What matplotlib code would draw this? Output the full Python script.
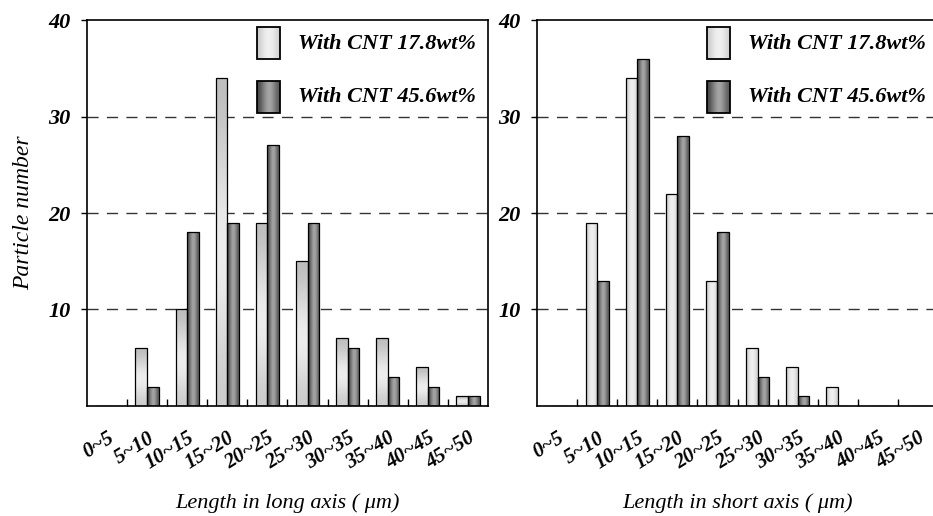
import numpy as np
import matplotlib
matplotlib.use('Agg')
import matplotlib.pyplot as plt
from matplotlib.patches import Rectangle

# size classes (um), shared by both panels
size_bins = ['0~5', '5~10', '10~15', '15~20', '20~25',
             '25~30', '30~35', '35~40', '40~45', '45~50']
series_names = ['With CNT 17.8wt%', 'With CNT 45.6wt%']

# particle counts
long_cnt178 = [0, 6, 10, 34, 19, 15, 7, 7, 4, 1]
long_cnt456 = [0, 2, 18, 19, 27, 19, 6, 3, 2, 1]
short_cnt178 = [0, 19, 34, 22, 13, 6, 4, 2, 0, 0]
short_cnt456 = [0, 13, 36, 28, 18, 3, 1, 0, 0, 0]

y_ticks = [10, 20, 30, 40]

plt.rcParams['font.family'] = 'Liberation Serif'
plt.rcParams['font.weight'] = 'bold'
plt.rcParams['font.style'] = 'italic'

# gray ramps used as fake 3d shading
light_h = np.array([0.80, 0.86, 0.92, 0.94, 0.93, 0.88, 0.82])
dark_h = np.array([0.28, 0.42, 0.56, 0.66, 0.62, 0.48, 0.36])
light_v = np.array([0.74, 0.80, 0.86, 0.92, 0.93, 0.90, 0.84, 0.80])


def shade(ax, patches, ramp, vertical=False):
    for p in patches:
        if p.get_height() <= 0:
            continue
        x0, y0 = p.get_x(), p.get_y()
        w, h = p.get_width(), p.get_height()
        if vertical:
            img = ramp.reshape(-1, 1)
        else:
            img = ramp.reshape(1, -1)
        im = ax.imshow(img, cmap='gray', vmin=0, vmax=1, aspect='auto',
                       extent=(x0, x0 + w, y0, y0 + h), origin='upper',
                       interpolation='bicubic', zorder=2)
        im.set_clip_path(p)


def legend_box(ax, y, ramp):
    r = Rectangle((0.425, y), 0.056, 0.083, transform=ax.transAxes,
                  facecolor='none', edgecolor='black', lw=1.3, zorder=4)
    ax.add_patch(r)
    im = ax.imshow(ramp.reshape(1, -1), cmap='gray', vmin=0, vmax=1,
                   aspect='auto', extent=(0.425, 0.481, y, y + 0.083),
                   transform=ax.transAxes, interpolation='bicubic', zorder=3)
    im.set_clip_path(r)


def panel(ax, a, b, xlabel, vert_light):
    x = np.arange(len(size_bins))
    w = 0.29
    for yv in y_ticks[:-1]:
        ax.axhline(yv, color='#333333', lw=1, dashes=(8, 6), zorder=1)
    b1 = ax.bar(x - w / 2, a, w, facecolor='none', edgecolor='black', lw=0.9, zorder=3)
    b2 = ax.bar(x + w / 2, b, w, facecolor='none', edgecolor='black', lw=0.9, zorder=3)
    shade(ax, b1, light_v if vert_light else light_h, vertical=vert_light)
    shade(ax, b2, dark_h)
    ax.set_xlim(-0.5, len(size_bins) - 0.5)
    ax.set_ylim(0, 40)

    ax.set_yticks(y_ticks)
    ax.set_yticklabels([str(v) for v in y_ticks], fontsize=16)
    ax.tick_params(axis='y', direction='out', length=4, width=1, pad=8)
    ax.set_xticks(x)
    ax.set_xticklabels(size_bins, fontsize=15, rotation=32,
                       ha='right', rotation_mode='anchor')
    ax.tick_params(axis='x', length=0, pad=16)
    ax.set_xticks(x[:-1] + 0.5, minor=True)
    ax.tick_params(axis='x', which='minor', direction='in', length=5, width=1)
    for s in ax.spines.values():
        s.set_linewidth(1.2)
    ax.set_xlabel(xlabel, fontsize=16, labelpad=14)

    legend_box(ax, 0.899, light_h)
    legend_box(ax, 0.759, dark_h)
    ax.text(0.526, 0.938, series_names[0], transform=ax.transAxes,
            fontsize=16, va='center', ha='left')
    ax.text(0.526, 0.80, series_names[1], transform=ax.transAxes,
            fontsize=16, va='center', ha='left')


fig = plt.figure(figsize=(9.33, 5.16), dpi=100)
ax1 = fig.add_axes([0.0932, 0.2132, 0.4298, 0.748])
ax2 = fig.add_axes([0.5756, 0.2132, 0.4298, 0.748])

panel(ax1, long_cnt178, long_cnt456, 'Length in long axis ( \u03bcm)', True)
panel(ax2, short_cnt178, short_cnt456, 'Length in short axis ( \u03bcm)', False)
ax1.set_ylabel('Particle number', fontsize=17, labelpad=10)

fig.savefig('out.png', dpi=100)
